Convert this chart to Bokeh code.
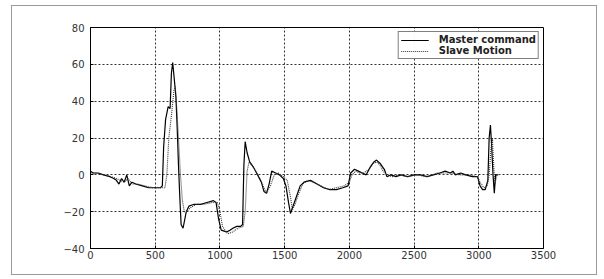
from bokeh.plotting import figure
from bokeh.models import Range1d, FixedTicker, Legend, LegendItem
from bokeh.embed import file_html
from bokeh.resources import INLINE

# Master command (solid)
master_x = [0, 20, 60, 100, 150, 180, 200, 220, 240, 260, 280, 300, 320, 350, 400, 450, 500, 540,
            555, 565, 580, 600, 615, 625, 635, 650, 660, 670, 680, 690, 700, 715, 740, 760, 800, 850,
            900, 950, 970, 990, 1010, 1050, 1080, 1100, 1130, 1160, 1175, 1185, 1195, 1210, 1230, 1260,
            1290, 1320, 1340, 1360, 1380, 1400, 1430, 1460, 1490, 1510, 1530, 1545, 1560, 1590, 1620,
            1650, 1700, 1750, 1800, 1850, 1900, 1950, 1990, 2010, 2040, 2070, 2100, 2130, 2160, 2190,
            2210, 2240, 2270, 2290, 2320, 2360, 2400, 2450, 2500, 2550, 2600, 2650, 2700, 2740, 2780,
            2800, 2820, 2860, 2900, 2950, 2990, 3010, 3030, 3050, 3070, 3080, 3090, 3100, 3110, 3120,
            3130, 3150, 3330]
master_y = [2, 1, 1, 0, -1, -2, -3, -5, -2, -4, 0, -6, -4, -5, -6, -7, -7, -7,
            -6, 15, 30, 37, 36, 55, 61, 50, 42, 25, 5, -12, -27, -29, -20, -17, -16, -16,
            -15, -14, -15, -24, -30, -31, -30, -29, -28, -28, -27, 5, 18, 12, 7, 4,
            0, -4, -9, -10, -5, 2, 1, 0, -2, -6, -15, -21, -18, -12, -6,
            -4, -3, -5, -7, -8, -8, -7, -6, 1, 3, 2, 1, 0, 4, 7,
            8, 6, 3, -1, 0, -1, 0, -1, 0, 0, -1, 0, 1, 2,
            1, 2, 0, 1, 0, -1, -1, -6, -8, -8, -3, 20, 27, 15, 0,
            -10, 0, 0]

# Slave motion (dotted)
slave_x = [0, 40, 100, 160, 200, 230, 260, 290, 320, 360, 420, 480, 540, 575, 590, 605, 625, 645,
           655, 665, 680, 695, 710, 725, 740, 770, 820, 880, 940, 980, 1000, 1020, 1060, 1100, 1140,
           1180, 1195, 1210, 1225, 1250, 1280, 1310, 1340, 1360, 1390, 1420, 1450, 1490, 1520, 1545,
           1560, 1580, 1610, 1640, 1680, 1720, 1780, 1840, 1900, 1960, 2000, 2020, 2050, 2080, 2110,
           2150, 2180, 2210, 2240, 2260, 2290, 2330, 2380, 2450, 2520, 2600, 2680, 2740, 2790, 2850,
           2920, 2990, 3010, 3040, 3065, 3080, 3095, 3105, 3115, 3125, 3140]
slave_y = [1, 1, 0, -1, -2, -3, -4, -2, -5, -5, -6, -7, -7, -7, 0, 20, 32, 46,
           48, 38, 20, 0, -14, -20, -20, -18, -16, -16, -15, -15, -20, -28, -32, -31, -29,
           -28, -20, 2, 7, 5, 2, -2, -7, -10, -6, 0, 1, -1, -3, -12,
           -19, -16, -10, -5, -3, -4, -6, -8, -7, -6, -4, 0, 2, 1, 1,
           3, 6, 7, 5, 2, 0, -1, 0, -1, 0, -1, 1, 1, 1, 0,
           0, -1, -4, -7, -6, 0, 15, 20, 5, -5, 0]

x_ticks = [0, 500, 1000, 1500, 2000, 2500, 3000, 3500]
y_ticks = [-40, -20, 0, 20, 40, 60, 80]

p = figure(width=586, height=270, output_backend="svg", toolbar_location=None,
           x_range=Range1d(0, 3500), y_range=Range1d(-40, 80),
           min_border_left=78, min_border_right=55, min_border_top=21, min_border_bottom=28)
p.styles = {"border": "1px solid #999999", "margin": "5px 0px 0px 11px"}
p.outline_line_color = "black"
p.outline_line_width = 1

r1 = p.line(master_x, master_y, line_color="black", line_width=1.2)
r2 = p.line(slave_x, slave_y, line_color="#333333", line_width=1.1, line_dash="1 1")

for ax in (p.xaxis[0], p.yaxis[0]):
    ax.major_label_text_font = "DejaVu Sans"
    ax.major_label_text_font_size = "10px"
    ax.major_label_text_color = "#333333"
    ax.axis_line_color = "black"
    ax.major_tick_in = 3
    ax.major_tick_out = 0
    ax.minor_tick_in = 0
    ax.minor_tick_out = 0
    ax.major_tick_line_color = "black"
p.xaxis.ticker = FixedTicker(ticks=x_ticks)
p.yaxis.ticker = FixedTicker(ticks=y_ticks)
p.xaxis.major_label_standoff = 2
p.yaxis.major_label_standoff = 6

p.grid.grid_line_color = "black"
p.grid.grid_line_dash = "2 2"
p.grid.grid_line_alpha = 0.8

legend = Legend(items=[LegendItem(label="Master command", renderers=[r1]),
                       LegendItem(label="Slave Motion", renderers=[r2])],
                location="top_right")
legend.label_text_font = "DejaVu Sans"
legend.label_text_font_size = "10px"
legend.label_text_font_style = "bold"
legend.label_text_color = "#222222"
legend.label_height = 10
legend.glyph_height = 10
legend.glyph_width = 28
legend.spacing = 0
legend.padding = 2
legend.margin = 4
legend.label_standoff = 10
legend.border_line_color = "black"
legend.border_line_width = 1
p.add_layout(legend)

open("out.html", "w").write(file_html(p, INLINE))
